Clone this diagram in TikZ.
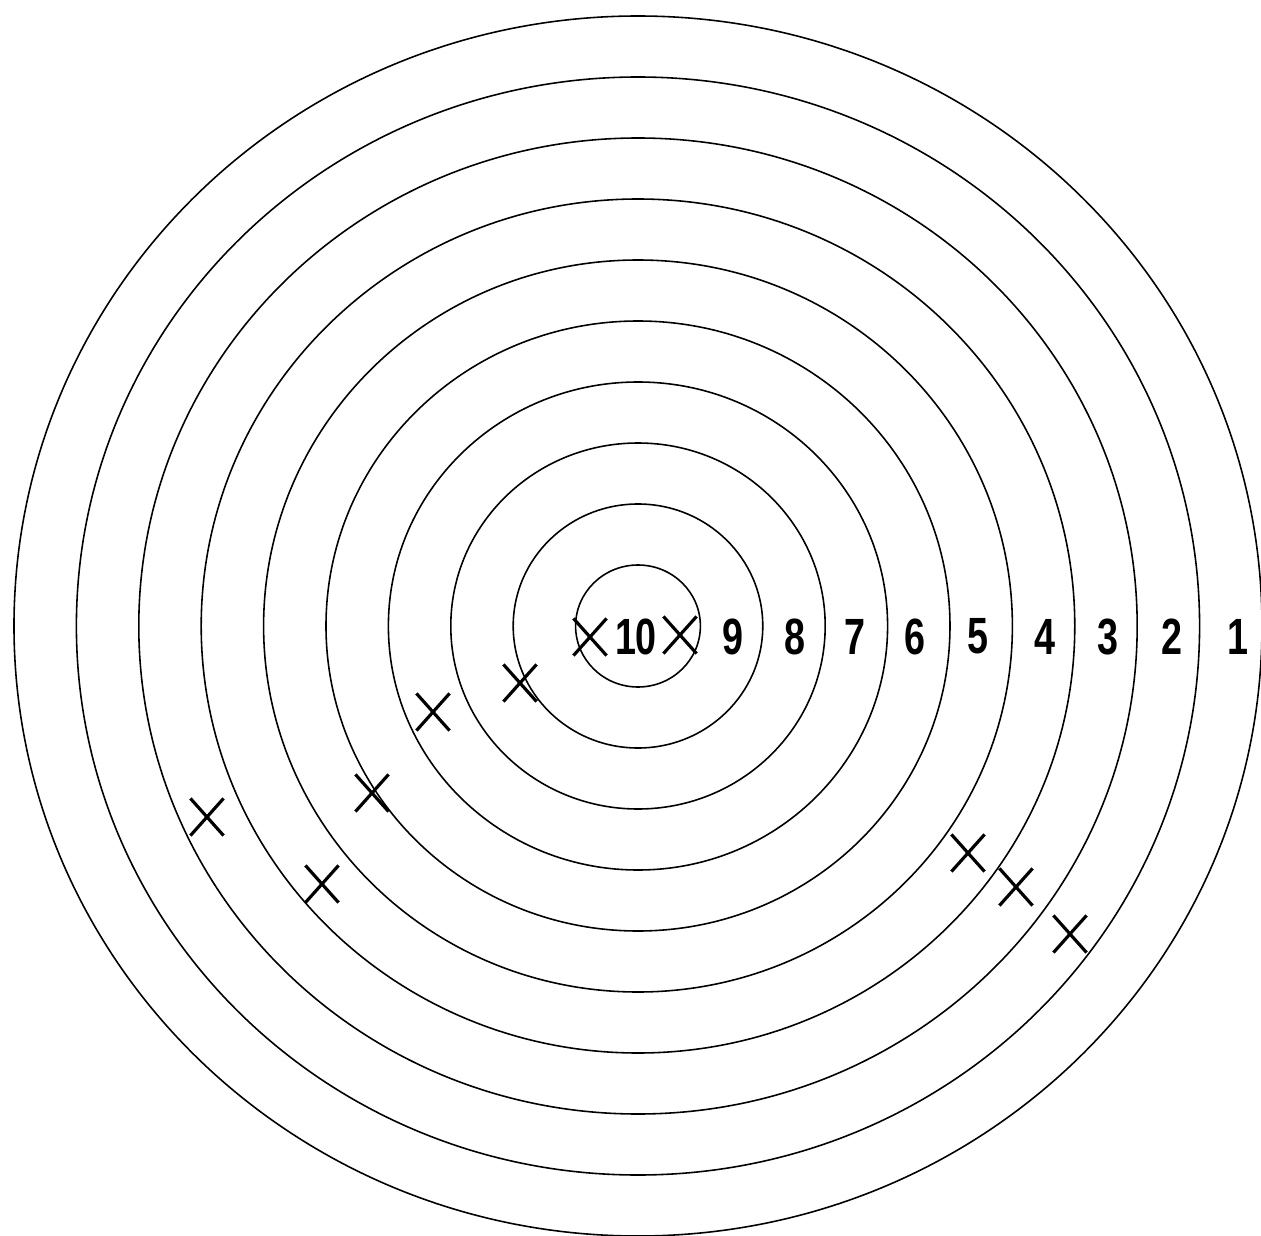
\documentclass[tikz,border=0pt]{standalone}
\usepackage{fontspec}
\newfontfamily\ringfont{Liberation Sans}
\usepackage{tikz}
\usetikzlibrary{shapes.misc,positioning,calc}

\begin{document}
\begin{tikzpicture}[
    ringline/.style={line width=0.9pt},
    hit/.style={draw,cross out,line width=1.8pt,minimum width=0.6cm,minimum height=0.68cm,inner sep=0pt},
    score/.style={font=\ringfont\bfseries\fontsize{29}{29}\selectfont,xscale=0.74,inner sep=0pt}
  ]
  \useasboundingbox (-12.76,-12.18) rectangle (12.46,12.52);
  % target rings
  \foreach \r in {1,...,10}{
    \draw[ringline] (0,0) ellipse [x radius=1.248*\r cm, y radius=1.22*\r cm];
  }
  % ring scores along the horizontal axis
  \foreach \x/\s in {-0.04/10, 1.90/9, 3.14/8, 4.34/7, 5.54/6, 6.80/5, 8.14/4, 9.40/3, 10.68/2, 12.00/1}{
    \node[score] (S\s) at (\x,-0.21) {\s};
  }
  % shots
  \foreach \x/\y [count=\i] in {-0.96/-0.22, 0.84/-0.18, -2.36/-1.14, -4.10/-1.72, -5.32/-3.34,
                                -8.62/-3.82, -6.32/-5.16, 6.60/-4.54, 7.56/-5.22, 8.64/-6.16}{
    \node[hit] (H\i) at (\x,\y) {};
  }
\end{tikzpicture}
\end{document}
